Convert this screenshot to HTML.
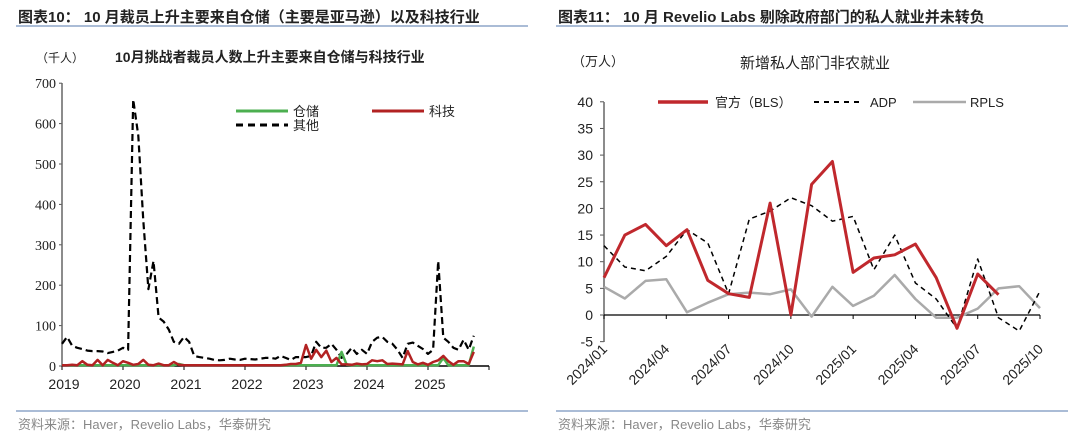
<!DOCTYPE html>
<html><head><meta charset="utf-8"><style>
body{margin:0;width:1080px;height:437px;background:#fff;overflow:hidden;font-family:"Liberation Sans","Noto Sans CJK SC",sans-serif}
svg{position:absolute;left:0;top:0}
</style></head><body>
<svg id="s" width="1080" height="437" xmlns="http://www.w3.org/2000/svg">
<g font-family="Liberation Sans, Noto Sans CJK SC, sans-serif">
<text x="18" y="22" font-size="15" font-weight="bold" fill="#222">图表10：  10 月裁员上升主要来自仓储（主要是亚马逊）以及科技行业</text>
<line x1="16" y1="26" x2="528" y2="26" stroke="#8ea5c8" stroke-width="1.5"/>
<text x="558" y="22" font-size="15" font-weight="bold" fill="#222">图表11：  10 月 Revelio Labs 剔除政府部门的私人就业并未转负</text>
<line x1="556" y1="26" x2="1068" y2="26" stroke="#8ea5c8" stroke-width="1.5"/>
<line x1="16" y1="411" x2="528" y2="411" stroke="#8ea5c8" stroke-width="1.5"/>
<line x1="556" y1="411" x2="1068" y2="411" stroke="#8ea5c8" stroke-width="1.5"/>
<text x="18" y="429" font-size="13" fill="#888">资料来源：Haver，Revelio Labs，华泰研究</text>
<text x="558" y="429" font-size="13" fill="#888">资料来源：Haver，Revelio Labs，华泰研究</text>
<text x="36" y="62" font-size="12" fill="#222">（千人）</text>
<text x="115" y="62" font-size="14" font-weight="bold" fill="#222">10月挑战者裁员人数上升主要来自仓储与科技行业</text>
<text x="572" y="66" font-size="13" fill="#222">（万人）</text>
<text x="740" y="68" font-size="15" fill="#222">新增私人部门非农就业</text>
</g>
<g id="L"></g><g id="R"></g>
</svg>
<script>
var NS="http://www.w3.org/2000/svg";
function el(p,t,a,txt){var e=document.createElementNS(NS,t);for(var k in a)e.setAttribute(k,a[k]);if(txt!=null)e.textContent=txt;p.appendChild(e);return e;}
var L=document.getElementById("L");
function lx(m){return 62+m*61/12;} function ly(v){return 366-v*0.404;}
for(var v=0;v<=700;v+=100){el(L,"text",{x:56,y:ly(v)+5,"font-size":14,"text-anchor":"end",fill:"#222","font-family":"Liberation Serif,serif"},v);el(L,"line",{x1:59,x2:62,y1:ly(v),y2:ly(v),stroke:"#555"});}
el(L,"line",{x1:62,x2:62,y1:83,y2:366,stroke:"#666","stroke-width":1.5});
el(L,"line",{x1:62,x2:489,y1:366,y2:366,stroke:"#000","stroke-width":1.5});
for(var y=0;y<8;y++){el(L,"line",{x1:lx(y*12),x2:lx(y*12),y1:366,y2:370,stroke:"#000"});if(y<7)el(L,"text",{x:lx(y*12)+2,y:389,"font-size":14,"text-anchor":"middle",fill:"#222"},2019+y);}
var other=[55,72,50,45,42,38,37,37,36,32,35,38,45,40,660,570,360,190,260,120,110,90,60,55,72,60,25,22,20,18,15,14,15,18,16,15,18,17,16,18,20,20,18,25,20,15,22,22,22,25,60,45,45,55,40,20,30,45,30,40,30,60,70,72,60,55,40,20,55,58,50,42,30,40,260,70,60,45,40,65,40,75];
var wh=[];for(var i=0;i<82;i++)wh.push(2);wh[55]=35;wh[56]=3;wh[75]=20;wh[81]=48;wh[23]=5;
var tech=[2,2,3,2,12,3,2,15,2,15,8,2,12,8,3,5,15,3,2,6,2,2,10,3,2,2,2,2,2,2,2,2,2,2,2,2,2,2,2,2,2,2,2,2,3,5,5,8,52,18,40,22,38,10,20,4,4,3,6,4,5,14,12,14,5,6,5,4,37,10,4,8,3,10,14,25,12,3,12,12,5,35];
function pl(g,arr,fx,fy,st){var p=arr.map(function(v,i){return v==null?null:fx(i).toFixed(1)+","+fy(v).toFixed(1)}).filter(Boolean).join(" ");el(g,"polyline",Object.assign({points:p,fill:"none","stroke-linejoin":"round"},st));}
pl(L,other,lx,ly,{stroke:"#000","stroke-width":2.2,"stroke-dasharray":"7,4"});
pl(L,wh,lx,ly,{stroke:"#4caf50","stroke-width":2.5});
pl(L,tech,lx,ly,{stroke:"#b22222","stroke-width":2.5});
el(L,"line",{x1:236,x2:288,y1:111,y2:111,stroke:"#4caf50","stroke-width":3});
el(L,"text",{x:293,y:116,"font-size":13,fill:"#222"},"仓储");
el(L,"line",{x1:372,x2:424,y1:111,y2:111,stroke:"#b22222","stroke-width":3});
el(L,"text",{x:429,y:116,"font-size":13,fill:"#222"},"科技");
el(L,"line",{x1:236,x2:288,y1:125,y2:125,stroke:"#000","stroke-width":3,"stroke-dasharray":"7,5"});
el(L,"text",{x:293,y:130,"font-size":13,fill:"#222"},"其他");
var R=document.getElementById("R");
function rx(m){return 604+m*436/21;} function ry(v){return 315-v*5.33;}
for(var v=-5;v<=40;v+=5){el(R,"text",{x:593,y:ry(v)+5,"font-size":14,"text-anchor":"end",fill:"#222"},v);el(R,"line",{x1:600,x2:604,y1:ry(v),y2:ry(v),stroke:"#555"});}
el(R,"line",{x1:604,x2:604,y1:102,y2:342,stroke:"#666","stroke-width":1.5});
el(R,"line",{x1:604,x2:1040,y1:315,y2:315,stroke:"#000","stroke-width":1.2});
var labs=["2024/01","2024/04","2024/07","2024/10","2025/01","2025/04","2025/07","2025/10"];
for(var i=0;i<8;i++){var X=rx(i*3);el(R,"line",{x1:X,x2:X,y1:315,y2:319,stroke:"#000"});el(R,"text",{x:X+4,y:350,"font-size":14,"text-anchor":"end",fill:"#222",transform:"rotate(-45 "+(X+4)+" 350)"},labs[i]);}
var bls=[7,15,17,13,16,6.5,4,3.3,21,0,24.5,28.8,8,10.7,11.3,13.3,7,-2.5,7.7,3.8];
var adp=[13,9,8.3,11,16,13.5,4,18,19.5,22,20.5,17.6,18.5,8.5,15,6,3,-2.5,10.5,-0.5,-3,4.5];
var rpls=[5.3,3.1,6.4,6.7,0.5,2.3,3.9,4.2,3.9,4.8,-0.3,5.3,1.7,3.6,7.5,3,-0.5,-0.5,1.2,5,5.4,1.3];
pl(R,rpls,rx,ry,{stroke:"#aaa","stroke-width":2.5});
pl(R,adp,rx,ry,{stroke:"#000","stroke-width":1.5,"stroke-dasharray":"5,4"});
pl(R,bls,rx,ry,{stroke:"#c0282d","stroke-width":3});
el(R,"line",{x1:658,x2:708,y1:102,y2:102,stroke:"#c0282d","stroke-width":3.5});
el(R,"text",{x:715,y:107,"font-size":13,fill:"#222"},"官方（BLS）");
el(R,"line",{x1:814,x2:862,y1:102,y2:102,stroke:"#000","stroke-width":2,"stroke-dasharray":"5,5"});
el(R,"text",{x:870,y:107,"font-size":13,fill:"#222"},"ADP");
el(R,"line",{x1:913,x2:966,y1:102,y2:102,stroke:"#aaa","stroke-width":2.5});
el(R,"text",{x:970,y:107,"font-size":13,fill:"#222"},"RPLS");
</script>
</body></html>
